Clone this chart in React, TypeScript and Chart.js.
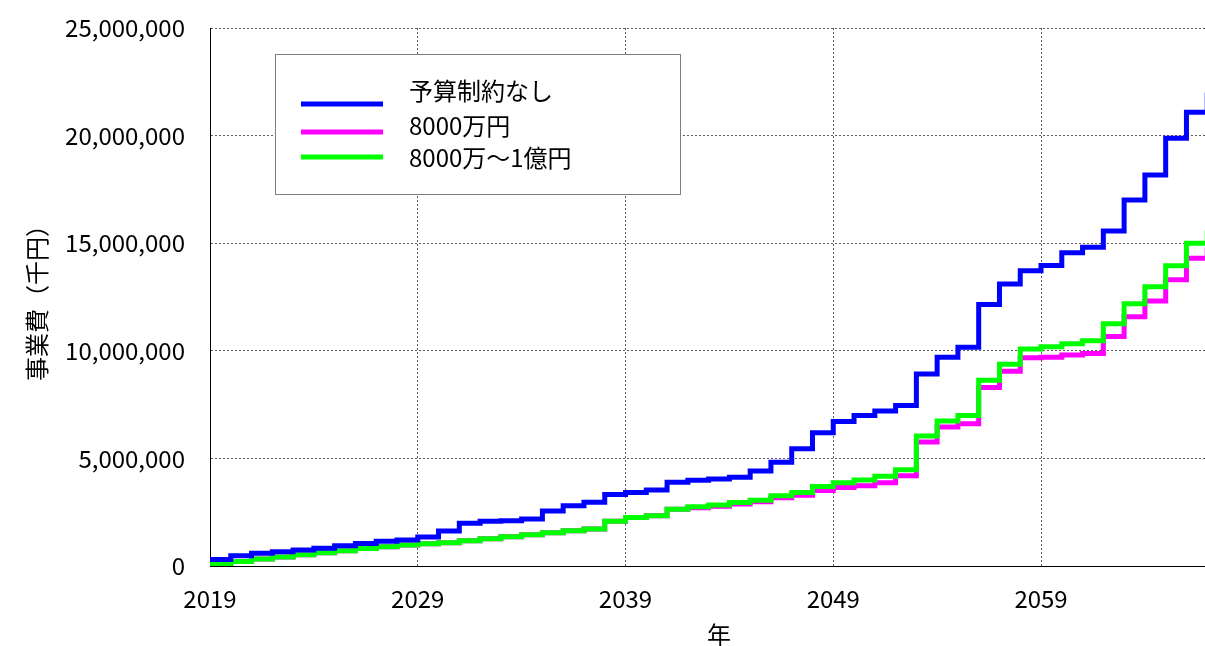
import React, { useEffect, useRef } from "react";
import { Chart, registerables } from "chart.js";

Chart.register(...registerables);

// ---- data (thousand yen), one value per year, held until the next year ----
const YEARS = [
  2019, 2020, 2021, 2022, 2023, 2024, 2025, 2026, 2027, 2028,
  2029, 2030, 2031, 2032, 2033, 2034, 2035, 2036, 2037, 2038,
  2039, 2040, 2041, 2042, 2043, 2044, 2045, 2046, 2047, 2048,
  2049, 2050, 2051, 2052, 2053, 2054, 2055, 2056, 2057, 2058,
  2059, 2060, 2061, 2062, 2063, 2064, 2065, 2066, 2067,
];

const NO_LIMIT = [
  300000, 480000, 590000, 660000, 740000, 820000, 940000, 1050000, 1150000, 1210000,
  1350000, 1630000, 1990000, 2080000, 2100000, 2180000, 2550000, 2800000, 2960000, 3320000,
  3420000, 3530000, 3890000, 3980000, 4040000, 4120000, 4420000, 4820000, 5450000, 6190000,
  6710000, 6990000, 7200000, 7460000, 8920000, 9700000, 10170000, 12150000, 13100000, 13720000,
  13960000, 14560000, 14810000, 15570000, 17010000, 18170000, 19880000, 21090000, 22000000,
];

const LIMIT_80M = [
  90000, 210000, 320000, 420000, 520000, 620000, 710000, 810000, 900000, 980000,
  1030000, 1080000, 1170000, 1270000, 1360000, 1450000, 1540000, 1640000, 1720000, 2080000,
  2250000, 2340000, 2640000, 2710000, 2780000, 2880000, 2980000, 3170000, 3290000, 3510000,
  3650000, 3730000, 3870000, 4190000, 5760000, 6460000, 6610000, 8290000, 9050000, 9680000,
  9700000, 9800000, 9880000, 10670000, 11580000, 12310000, 13300000, 14300000, 14800000,
];

const LIMIT_80M_100M = [
  90000, 210000, 320000, 420000, 520000, 620000, 710000, 810000, 900000, 980000,
  1030000, 1080000, 1170000, 1270000, 1360000, 1450000, 1540000, 1640000, 1720000, 2080000,
  2250000, 2340000, 2640000, 2750000, 2840000, 2950000, 3060000, 3270000, 3410000, 3700000,
  3870000, 4000000, 4170000, 4470000, 6040000, 6740000, 6990000, 8630000, 9370000, 10080000,
  10190000, 10330000, 10470000, 11260000, 12190000, 12980000, 13950000, 15000000, 15600000,
];

const SERIES_LABELS = ["予算制約なし", "8000万円", "8000万～1億円"];
const SERIES_COLORS = ["#0000FF", "#FF00FF", "#00FF00"];
const X_TICKS = [2019, 2029, 2039, 2049, 2059];
const Y_TICKS = [0, 5000000, 10000000, 15000000, 20000000, 25000000];

const X_TITLE = "年";
const Y_TITLE = "事業費（千円）";

const FONT_FAMILY = '"Noto Sans CJK JP", "Noto Sans", sans-serif';

const toPoints = (vals: number[]) => YEARS.map((y, i) => ({ x: y, y: vals[i] }));

const boxLegend = {
  id: "boxLegend",
  afterDraw(chart: any) {
    const ctx = chart.ctx as CanvasRenderingContext2D;
    const a = chart.chartArea;
    const bx = a.left + 65;
    const by = a.top + 26;
    const bw = 405;
    const bh = 140;
    ctx.save();
    ctx.fillStyle = "#ffffff";
    ctx.fillRect(bx, by, bw, bh);
    ctx.strokeStyle = "#7f7f7f";
    ctx.lineWidth = 1;
    ctx.strokeRect(bx + 0.5, by + 0.5, bw, bh);
    const lineYs = [76, 104, 129];
    const textYs = [63, 98, 130];
    const datasets = chart.data.datasets;
    SERIES_LABELS.forEach((label, i) => {
      const ds = datasets.find((d: any) => d.label === label);
      ctx.strokeStyle = ds ? ds.borderColor : SERIES_COLORS[i];
      ctx.lineWidth = 5;
      ctx.lineCap = "butt";
      ctx.beginPath();
      ctx.moveTo(a.left + 91, a.top + lineYs[i]);
      ctx.lineTo(a.left + 173, a.top + lineYs[i]);
      ctx.stroke();
      ctx.fillStyle = "#000";
      ctx.font = `24px ${FONT_FAMILY}`;
      ctx.textAlign = "left";
      ctx.textBaseline = "middle";
      ctx.fillText(label, a.left + 199, a.top + textYs[i]);
    });
    ctx.restore();
  },
};

export default function App() {
  const canvasRef = useRef<HTMLCanvasElement | null>(null);

  useEffect(() => {
    if (!canvasRef.current) return;
    const gridColor = "#5a5a5a";
    const chart = new Chart(canvasRef.current, {
      type: "line",
      data: {
        datasets: [
          {
            label: SERIES_LABELS[0],
            data: toPoints(NO_LIMIT),
            borderColor: SERIES_COLORS[0],
            backgroundColor: SERIES_COLORS[0],
            order: 0,
          },
          {
            label: SERIES_LABELS[1],
            data: toPoints(LIMIT_80M),
            borderColor: SERIES_COLORS[1],
            backgroundColor: SERIES_COLORS[1],
            order: 2,
          },
          {
            label: SERIES_LABELS[2],
            data: toPoints(LIMIT_80M_100M),
            borderColor: SERIES_COLORS[2],
            backgroundColor: SERIES_COLORS[2],
            order: 1,
          },
        ],
      },
      options: {
        animation: false,
        responsive: false,
        devicePixelRatio: 1,
        layout: { padding: { top: 28, left: 0, right: 0, bottom: 0 } },
        elements: {
          line: {
            stepped: true,
            borderWidth: 5,
            tension: 0,
            borderJoinStyle: "miter",
            borderCapStyle: "butt",
            fill: false,
          },
          point: { radius: 0, hoverRadius: 0 },
        },
        plugins: {
          legend: { display: false },
          tooltip: { enabled: false },
        },
        scales: {
          x: {
            type: "linear",
            min: 2019,
            max: 2068,
            afterBuildTicks: (scale: any) => {
              scale.ticks = X_TICKS.map((v) => ({ value: v }));
            },
            afterFit: (scale: any) => {
              scale.height = 80;
            },
            ticks: {
              color: "#000",
              font: { family: FONT_FAMILY, size: 24 },
              padding: 18,
              maxRotation: 0,
              autoSkip: false,
              callback: (v: any) => String(v),
            },
            grid: {
              color: gridColor,
              lineWidth: 1,
              drawTicks: false,
            },
            border: { display: true, color: "#000", width: 1, dash: [2, 2] },
            title: {
              display: true,
              text: X_TITLE,
              color: "#000",
              font: { family: FONT_FAMILY, size: 24, lineHeight: 0.9 },
              padding: { top: 0, bottom: 0 },
            },
          },
          y: {
            type: "linear",
            min: 0,
            max: 25000000,
            afterBuildTicks: (scale: any) => {
              scale.ticks = Y_TICKS.map((v) => ({ value: v }));
            },
            afterFit: (scale: any) => {
              scale.width = 210;
              scale.paddingTop = 0;
              scale.paddingBottom = 0;
            },
            ticks: {
              color: "#000",
              font: { family: FONT_FAMILY, size: 24 },
              padding: 25,
              callback: (v: any) => Number(v).toLocaleString("en-US"),
            },
            grid: {
              color: gridColor,
              lineWidth: 1,
              drawTicks: false,
            },
            border: { display: true, color: "#000", width: 1, dash: [2, 2] },
            title: {
              display: true,
              text: Y_TITLE,
              color: "#000",
              font: { family: FONT_FAMILY, size: 24, lineHeight: 1 },
              padding: { top: 25, bottom: 0 },
            },
          },
        },
      },
      plugins: [boxLegend],
    } as any);
    return () => chart.destroy();
  }, []);

  return (
    <div
      style={{
        position: "absolute",
        left: 0,
        top: 0,
        width: 1205,
        height: 646,
        overflow: "hidden",
        background: "#fff",
      }}
    >
      <canvas ref={canvasRef} width={1228} height={646} style={{ display: "block" }} />
    </div>
  );
}
